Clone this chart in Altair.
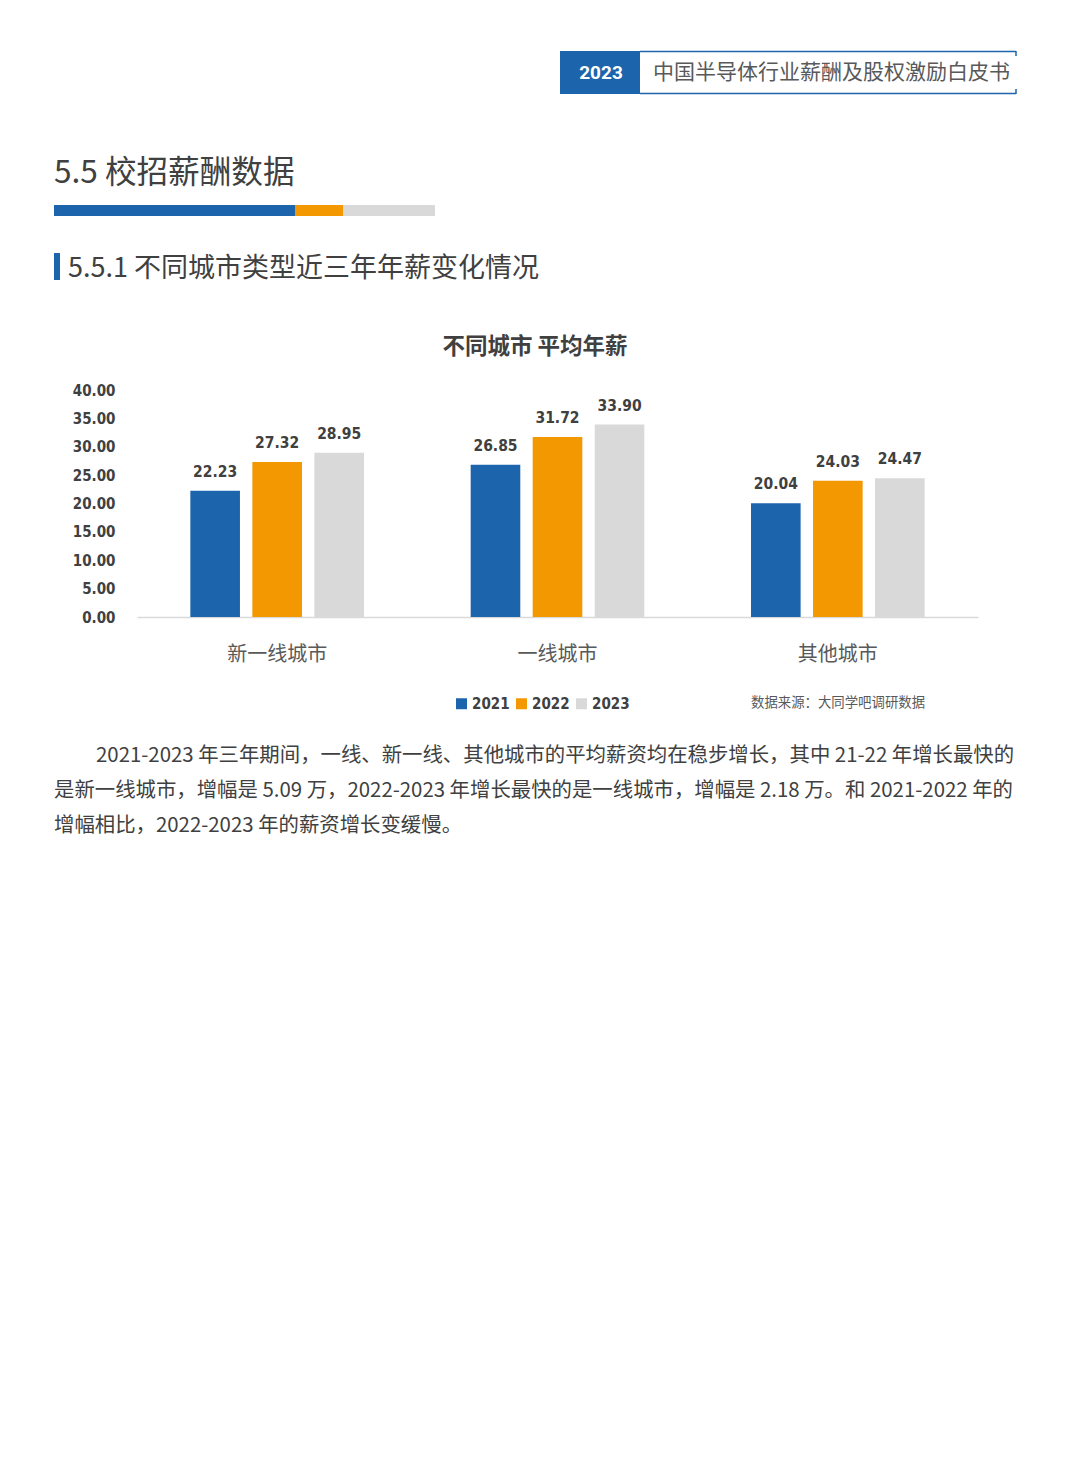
import altair as alt
import pandas as pd

# ---------------- data ----------------
cities = ["新一线城市", "一线城市", "其他城市"]
years = ["2021", "2022", "2023"]
salary_2021 = [22.23, 26.85, 20.04]
salary_2022 = [27.32, 31.72, 24.03]
salary_2023 = [28.95, 33.90, 24.47]
y_ticks = [0, 5, 10, 15, 20, 25, 30, 35, 40]
colors = ["#1c64ab", "#f39800", "#d9d9d9"]

chart_title = "不同城市 平均年薪"
source_note = "数据来源：大同学吧调研数据"
header_year = "2023"
header_title = "中国半导体行业薪酬及股权激励白皮书"
section_title = "5.5 校招薪酬数据"
subsection_title = "5.5.1 不同城市类型近三年年薪变化情况"
paragraph = [
    "2021-2023 年三年期间，一线、新一线、其他城市的平均薪资均在稳步增长，其中 21-22 年增长最快的",
    "是新一线城市，增幅是 5.09 万，2022-2023 年增长最快的是一线城市，增幅是 2.18 万。和 2021-2022 年的",
    "增幅相比，2022-2023 年的薪资增长变缓慢。",
]

rows = []
for yr, vals in zip(years, [salary_2021, salary_2022, salary_2023]):
    for c, v in zip(cities, vals):
        rows.append({"city": c, "year": yr, "value": v})
df = pd.DataFrame(rows)

CJK = "Noto Sans CJK SC"
NARROW = "Liberation Sans Narrow, DejaVu Sans Condensed, Roboto Condensed, Roboto"
DARK = "#404040"
MID = "#595959"
BLUE = colors[0]

# ---------------- chart ----------------
x_enc = alt.X(
    "city:N", sort=cities,
    scale=alt.Scale(paddingInner=0, paddingOuter=0),
    axis=alt.Axis(title=None, labelAngle=0, ticks=False, domainColor="#d9d9d9",
                  domainWidth=1.5, labelFontSize=20, labelColor=MID,
                  labelPadding=27, labelFont=CJK),
)
xo_enc = alt.XOffset("year:N", sort=years,
                     scale=alt.Scale(paddingInner=0.2, paddingOuter=0.86))
y_enc = alt.Y(
    "value:Q", scale=alt.Scale(domain=[0, 40], nice=False),
    axis=alt.Axis(title=None, values=y_ticks, format=".2f", domain=False,
                  ticks=False, grid=False, labelFontSize=15, labelColor=DARK,
                  labelPadding=22, labelFont=NARROW, labelFontWeight="bold"),
)

base = alt.Chart(df)
bars = base.mark_bar().encode(
    x=x_enc, xOffset=xo_enc, y=y_enc,
    color=alt.Color(
        "year:N", sort=years,
        scale=alt.Scale(domain=years, range=colors),
        legend=alt.Legend(title=None, orient="none", legendX=317, legendY=306,
                          direction="horizontal", symbolType="square",
                          symbolSize=121, symbolStrokeWidth=0, labelFont=NARROW,
                          labelFontSize=15, labelFontWeight="bold",
                          labelColor=DARK, labelOffset=3, columnPadding=4),
    ),
)
labels = base.mark_text(baseline="bottom", dy=-11, font=NARROW, fontSize=15.5,
                        fontWeight="bold", color=DARK).encode(
    x=x_enc, xOffset=xo_enc, y=y_enc,
    text=alt.Text("value:Q", format=".2f"),
)

one = alt.Data(values=[{}])


def txt(text, x, y, **kw):
    kw.setdefault("align", "left")
    kw.setdefault("baseline", "middle")
    kw.setdefault("font", CJK)
    return alt.Chart(one).mark_text(text=text, **kw).encode(
        x=alt.value(x), y=alt.value(y))


def box(x1, x2, y1, y2, color):
    return alt.Chart(one).mark_rect(color=color).encode(
        x=alt.value(x1), x2=alt.value(x2), y=alt.value(y1), y2=alt.value(y2))


def hline(x1, x2, y, color, w=1.5):
    return alt.Chart(one).mark_rule(color=color, strokeWidth=w).encode(
        x=alt.value(x1), x2=alt.value(x2), y=alt.value(y))


def vline(x, y1, y2, color, w=1.5):
    return alt.Chart(one).mark_rule(color=color, strokeWidth=w).encode(
        x=alt.value(x), y=alt.value(y1), y2=alt.value(y2))


decor = [
    # header
    box(423, 503, -339, -296, BLUE),
    txt(header_year, 464, -317, align="center", color="white", fontSize=19,
        fontWeight="bold", font="Roboto"),
    hline(503, 879, -338.5, BLUE),
    hline(503, 879, -296.5, BLUE),
    vline(879, -339, -334, BLUE),
    vline(879, -301, -296, BLUE),
    txt(header_title, 516, -317, color=MID, fontSize=21),
    # section title
    txt(section_title, -83, -216, color=DARK, fontSize=31.6),
    box(-83, 158, -185, -174, BLUE),
    box(158, 206, -185, -174, colors[1]),
    box(206, 298, -185, -174, colors[2]),
    # subsection
    box(-83, -77, -137, -110, BLUE),
    txt(subsection_title, -69, -121, color=DARK, fontSize=27),
    # chart title and source
    txt(chart_title, 398, -43, align="center", color=DARK, fontSize=22.5,
        fontWeight="bold"),
    txt(source_note, 614, 313, color=MID, fontSize=13.4),
    # paragraph
    txt(paragraph[0], -41, 366, color=DARK, fontSize=20.4),
    txt(paragraph[1], -83, 401, color=DARK, fontSize=20.4),
    txt(paragraph[2], -83, 436, color=DARK, fontSize=20.4),
]

chart = alt.layer(bars, labels, *decor).properties(
    width=841, height=227,
    padding={"left": 129, "top": 382, "right": 94, "bottom": 835},
    autosize=alt.AutoSizeParams(type="none"),
    background="white",
).configure_view(strokeWidth=0)

chart.save("out.html", embed_options={"renderer": "svg", "actions": False})
